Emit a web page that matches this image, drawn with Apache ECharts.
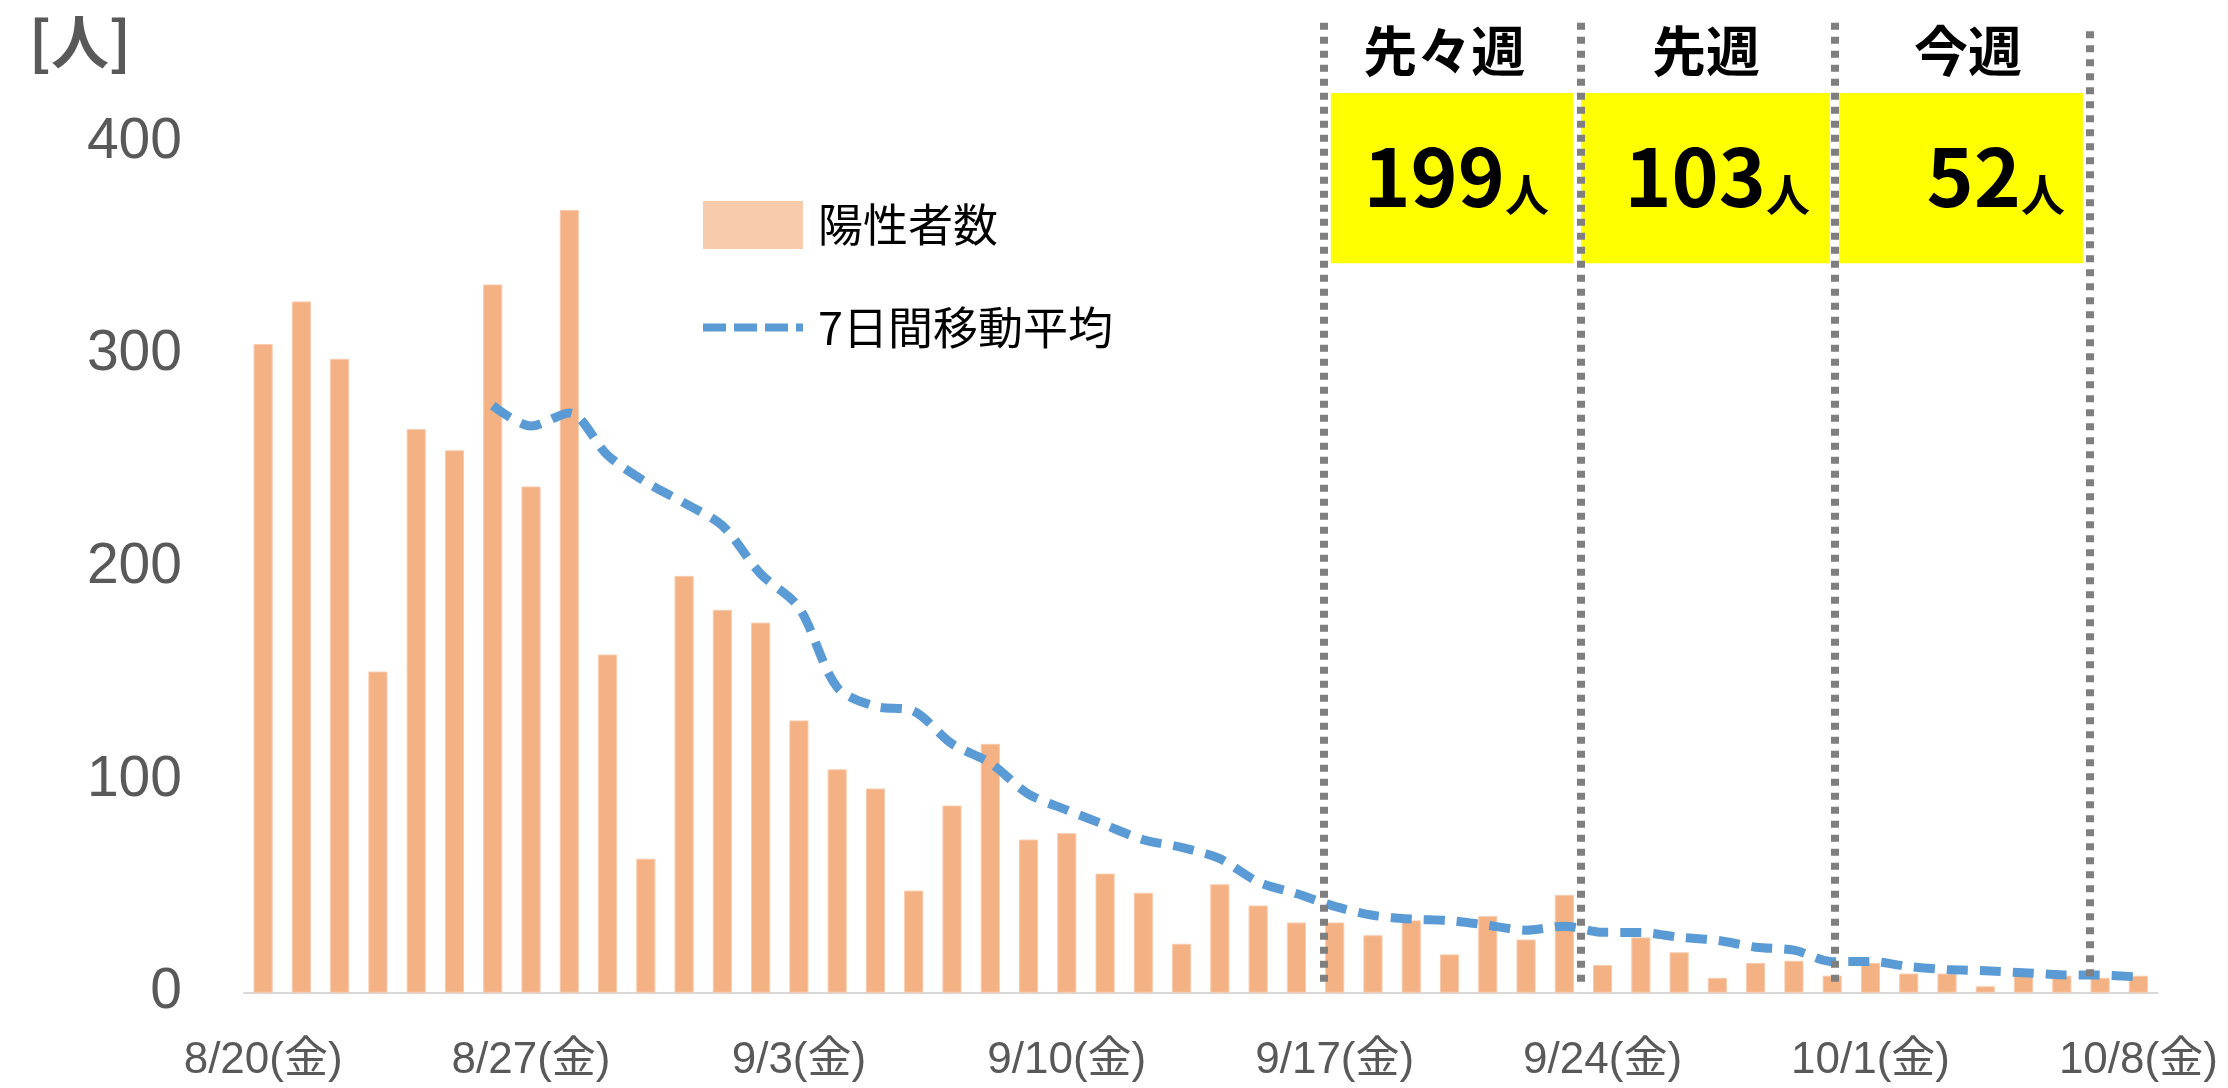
<!DOCTYPE html>
<html lang="ja">
<head>
    <meta charset="UTF-8">
    <title>陽性者数の推移</title>
    <script src="https://cdn.jsdelivr.net/npm/echarts@6.0.0/dist/echarts.min.js"></script>
    <style>
        html, body { margin: 0; padding: 0; background: #fff; }
        #chart { width: 2228px; height: 1088px; }
    </style>
</head>
<body>
    <div id="chart"></div>
    <script>
        // 日付
        const days = [
            '8/20(金)', '8/21(土)', '8/22(日)', '8/23(月)', '8/24(火)', '8/25(水)', '8/26(木)',
            '8/27(金)', '8/28(土)', '8/29(日)', '8/30(月)', '8/31(火)', '9/1(水)', '9/2(木)',
            '9/3(金)', '9/4(土)', '9/5(日)', '9/6(月)', '9/7(火)', '9/8(水)', '9/9(木)',
            '9/10(金)', '9/11(土)', '9/12(日)', '9/13(月)', '9/14(火)', '9/15(水)', '9/16(木)',
            '9/17(金)', '9/18(土)', '9/19(日)', '9/20(月)', '9/21(火)', '9/22(水)', '9/23(木)',
            '9/24(金)', '9/25(土)', '9/26(日)', '9/27(月)', '9/28(火)', '9/29(水)', '9/30(木)',
            '10/1(金)', '10/2(土)', '10/3(日)', '10/4(月)', '10/5(火)', '10/6(水)', '10/7(木)',
            '10/8(金)'
        ];

        // 陽性者数
        const positives = [
            305, 325, 298, 151, 265, 255, 333, 238, 368, 159,
            63, 196, 180, 174, 128, 105, 96, 48, 88, 117,
            72, 75, 56, 47, 23, 51, 41, 33, 33, 27,
            34, 18, 36, 25, 46, 13, 26, 19, 7, 14,
            15, 8, 14, 9, 9, 3, 8, 8, 7, 8
        ];

        // 7日間移動平均（8/26から）
        const movingAvg = [
            '-', '-', '-', '-', '-', '-',
            276.0, 266.4, 272.6, 252.7, 240.1, 230.3, 219.6, 196.9, 181.1, 143.6,
            134.6, 132.4, 117.0, 108.0, 93.4, 85.9, 78.9, 71.9, 68.3, 63.0,
            52.1, 46.6, 40.6, 36.4, 34.6, 33.9, 31.7, 29.4, 31.3, 28.4,
            28.3, 26.1, 24.6, 21.4, 20.0, 14.6, 14.7, 12.3, 10.9, 10.3,
            9.4, 8.4, 8.3, 7.4
        ];

        // 週ごとの合計
        const weekNames = ['先々週', '先週', '今週'];
        const weekTotals = [199, 103, 52];

        // 縦軸の目盛
        const yMin = 0;
        const yMax = 460;
        const yStep = 100;

        // 注記の位置（日数単位: 0〜50 の補助軸）
        const weekLineX = [28.22, 34.94, 41.57, 48.24];
        const weekLineTop = [456, 456, 456, 452];
        const weekBoxX = [[28.40, 34.73], [34.94, 41.44], [41.68, 48.05]];
        const weekNameX = [31.36, 38.20, 45.05];
        const weekTotalX = [34.10, 40.92, 47.58];

        const chart = echarts.init(document.getElementById('chart'));

        const hidden = 'rgba(0,0,0,0)';

        const option = {
            animation: false,
            backgroundColor: '#ffffff',
            title: {
                text: '[人]',
                left: 24,
                top: 8,
                textStyle: {
                    fontFamily: 'Noto Sans CJK JP',
                    fontSize: 58,
                    fontWeight: 'bold',
                    color: '#595959'
                }
            },
            legend: {
                orient: 'vertical',
                left: 699,
                top: 201,
                padding: 0,
                itemWidth: 100,
                itemHeight: 48,
                itemGap: 56,
                selectedMode: false,
                lineStyle: { width: 8, type: [23, 8], cap: 'butt' },
                textStyle: {
                    fontFamily: 'Noto Sans CJK JP',
                    fontSize: 45,
                    color: '#000000',
                    padding: [0, 0, 0, 10]
                },
                data: [
                    { name: '陽性者数', icon: 'rect', itemStyle: { color: '#F8CBAD', borderWidth: 0 } },
                    {
                        name: '7日間移動平均',
                        itemStyle: { color: hidden, opacity: 0 },
                        lineStyle: { width: 8, type: [23, 8], cap: 'butt', color: '#5B9BD5' }
                    }
                ]
            },
            grid: {
                left: 244,
                right: 70.5,
                top: 14.3,
                bottom: 95.3,
                outerBoundsMode: 'none'
            },
            xAxis: [
                {
                    type: 'category',
                    data: days,
                    axisTick: { show: false },
                    axisLine: { lineStyle: { color: '#D9D9D9', width: 2 } },
                    axisLabel: {
                        interval: 6,
                        margin: 46,
                        fontFamily: "'Liberation Sans', 'Noto Sans CJK JP'",
                        fontSize: 44,
                        color: '#595959'
                    }
                },
                {
                    type: 'value',
                    min: 0,
                    max: 50,
                    show: false
                }
            ],
            yAxis: {
                type: 'value',
                min: yMin,
                max: yMax,
                interval: yStep,
                axisLine: { show: false },
                axisTick: { show: false },
                splitLine: { show: false },
                axisLabel: {
                    showMaxLabel: false,
                    margin: 62,
                    fontFamily: 'Liberation Sans',
                    fontSize: 57,
                    color: '#595959',
                    formatter: function (v) { return v % yStep === 0 ? String(v) : ''; }
                }
            },
            series: [
                {
                    // 黄色の枠
                    name: 'boxes',
                    type: 'scatter',
                    xAxisIndex: 1,
                    data: [],
                    silent: true,
                    z: 1,
                    markArea: {
                        silent: true,
                        itemStyle: { color: '#FFFF00', opacity: 1 },
                        data: weekBoxX.map(b => [{ coord: [b[0], 423] }, { coord: [b[1], 343] }])
                    }
                },
                {
                    name: '陽性者数',
                    type: 'bar',
                    data: positives,
                    barWidth: '50%',
                    z: 2,
                    itemStyle: { color: '#F4B183', borderColor: '#F8CBAD', borderWidth: 1 }
                },
                {
                    // 週の区切り線
                    name: 'weeklines',
                    type: 'scatter',
                    xAxisIndex: 1,
                    data: [],
                    silent: true,
                    z: 3,
                    markLine: {
                        silent: true,
                        symbol: 'none',
                        label: { show: false },
                        lineStyle: { color: '#7F7F7F', width: 8, type: [7, 7], cap: 'butt', opacity: 1 },
                        data: weekLineX.map((x, i) => [{ coord: [x, weekLineTop[i]] }, { coord: [x, 5] }])
                    }
                },
                {
                    name: '7日間移動平均',
                    type: 'line',
                    data: movingAvg,
                    smooth: 0.3,
                    symbol: 'none',
                    z: 4,
                    lineStyle: { color: '#5B9BD5', width: 9, type: [21, 12], cap: 'butt' },
                    itemStyle: { color: '#5B9BD5' }
                },
                {
                    // 見出し
                    name: 'weeknames',
                    type: 'scatter',
                    xAxisIndex: 1,
                    silent: true,
                    symbolSize: 1,
                    itemStyle: { color: hidden, opacity: 1 },
                    z: 5,
                    data: weekNames.map((n, i) => ({ name: n, value: [weekNameX[i], 442.3] })),
                    label: {
                        show: true,
                        position: 'inside',
                        align: 'center',
                        verticalAlign: 'middle',
                        formatter: p => p.name,
                        fontFamily: 'Noto Sans CJK JP',
                        fontSize: 54,
                        fontWeight: 'bold',
                        color: '#000000'
                    }
                },
                {
                    // 週の合計
                    name: 'weektotals',
                    type: 'scatter',
                    xAxisIndex: 1,
                    silent: true,
                    symbolSize: 1,
                    itemStyle: { color: hidden, opacity: 1 },
                    z: 5,
                    data: weekTotals.map((t, i) => ({ name: String(t), value: [weekTotalX[i], 383.5] })),
                    label: {
                        show: true,
                        position: 'inside',
                        align: 'right',
                        verticalAlign: 'middle',
                        formatter: p => '{n|' + p.name + '}{u|人}',
                        rich: {
                            n: {
                                fontFamily: 'Noto Sans CJK JP',
                                fontSize: 80,
                                lineHeight: 80,
                                fontWeight: 'bold',
                                color: '#000000'
                            },
                            u: {
                                fontFamily: 'Noto Sans CJK JP',
                                fontSize: 44,
                                lineHeight: 44,
                                fontWeight: 'bold',
                                verticalAlign: 'bottom',
                                color: '#000000'
                            }
                        }
                    }
                }
            ]
        };

        chart.setOption(option);

        window.addEventListener('resize', function () {
            chart.resize();
        });
    </script>
</body>
</html>
